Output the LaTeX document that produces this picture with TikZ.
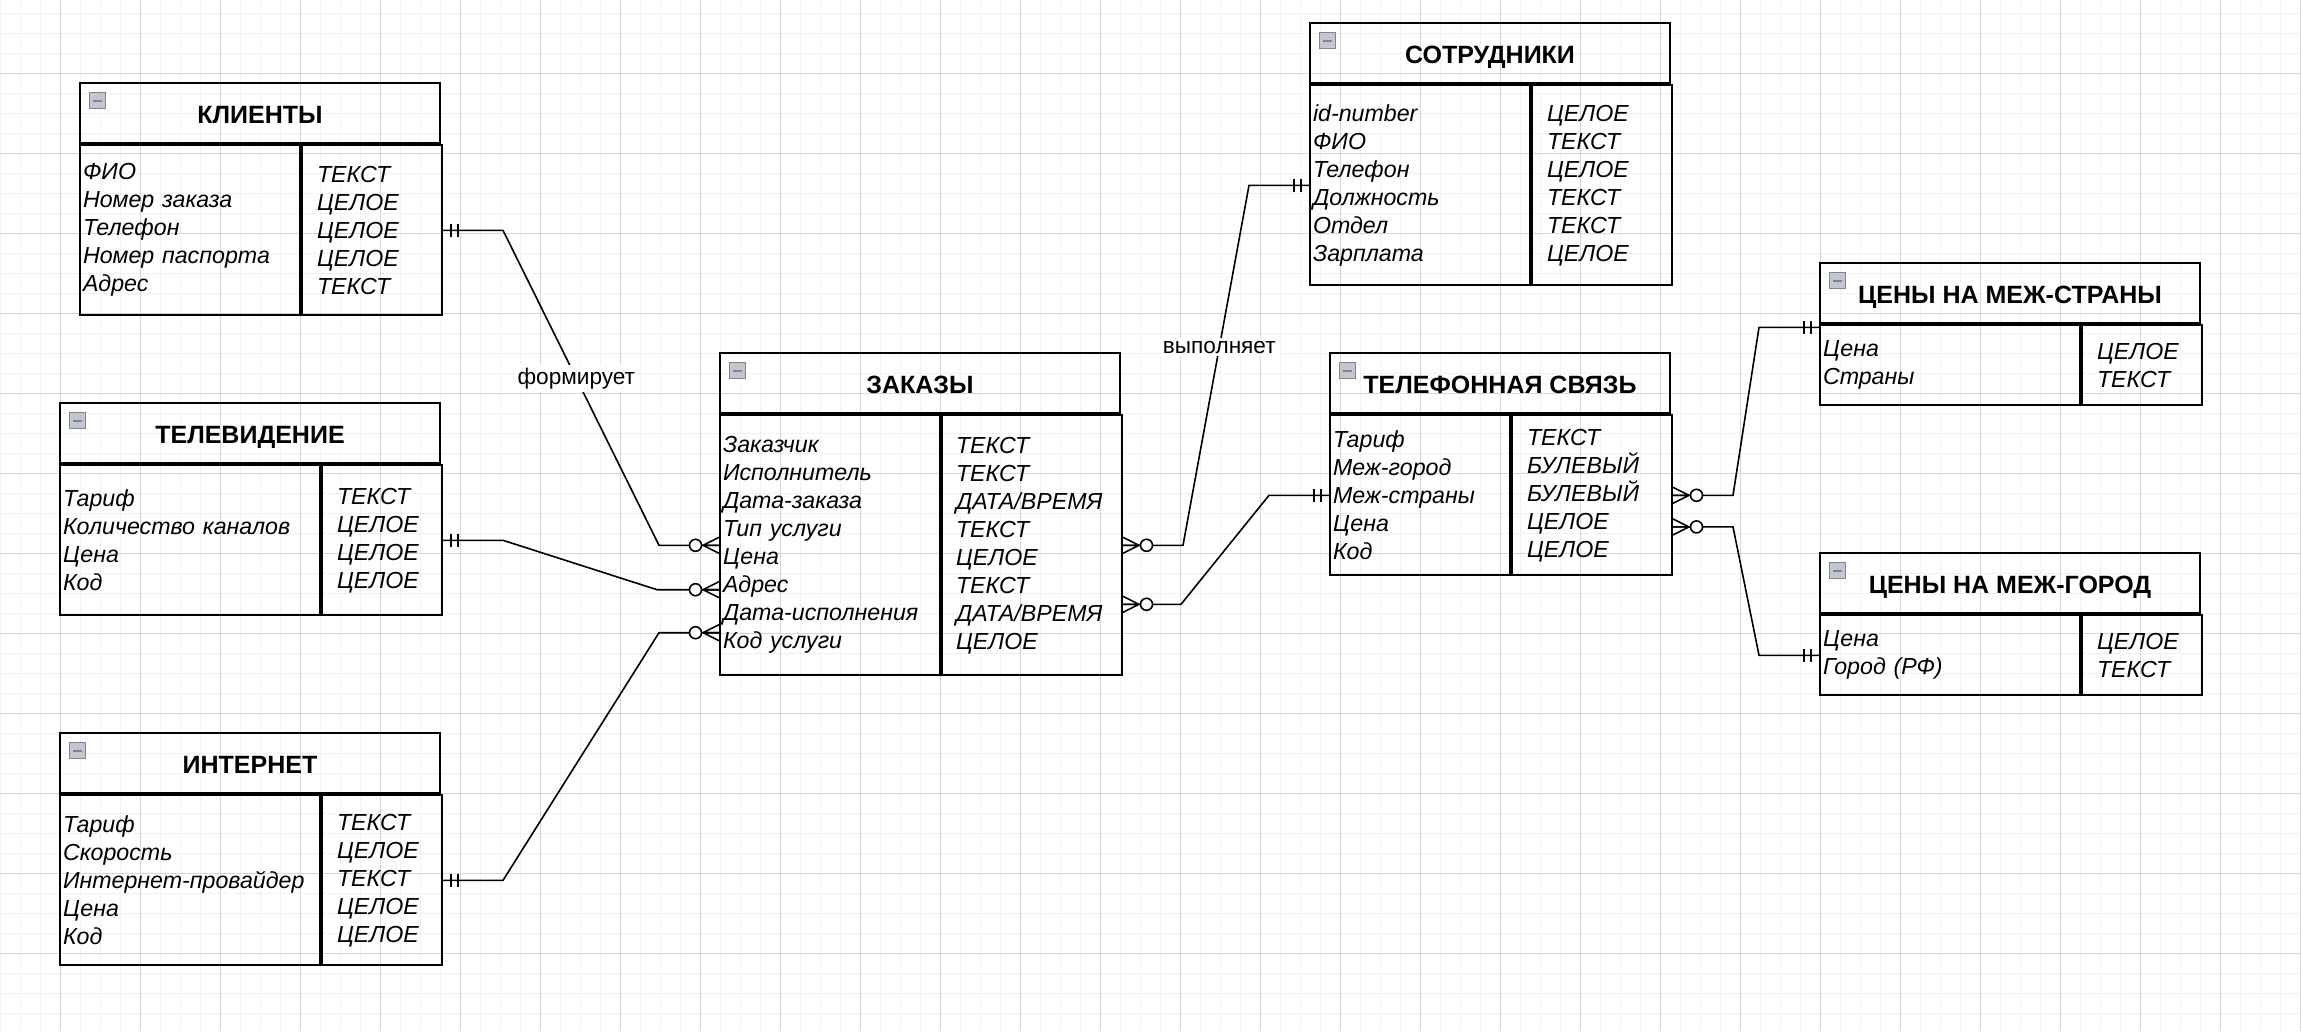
\documentclass[tikz,border=0pt]{standalone}
\usepackage{fontspec}
\setmainfont{Liberation Sans}
\usepackage{tikz}
\usetikzlibrary{positioning,calc}
\definecolor{gridminor}{RGB}{241,241,241}
\definecolor{gridmajor}{RGB}{214,214,214}
\definecolor{togglefill}{RGB}{196,198,206}
\definecolor{toggleedge}{RGB}{128,132,150}

\begin{document}
\begin{tikzpicture}[
    x=1pt, y=-1pt,
    entity/.style={rectangle, draw, line width=2pt, minimum height=60pt, inner sep=0pt,
                   text height=20pt, text depth=0pt, font=\fontsize{25pt}{28pt}\selectfont\bfseries},
    fields/.style={rectangle, draw, line width=2pt, inner xsep=3pt, inner ysep=0pt, align=left,
                   anchor=north west, font=\fontsize{23.2pt}{28pt}\selectfont\itshape},
    types/.style={fields, inner xsep=15pt},
    conn/.style={line width=1.6pt},
    lbl/.style={fill=white, inner sep=3pt, font=\fontsize{22.6pt}{26pt}\selectfont},
    toggle/.style={rectangle, draw=toggleedge, fill=togglefill, line width=1pt, minimum size=16pt, inner sep=0pt,
                   path picture={\draw[line width=1.6pt] ([xshift=-4.5pt]path picture bounding box.center)
                                 -- ([xshift=4.5pt]path picture bounding box.center);}},
    zeromany/.pic={\draw[conn] (0,-8) -- (16,0) -- (0,8) (0,0) -- (16,0);
                   \draw[conn, fill=white] (23.5,0) circle (6pt);},
    mandone/.pic={\draw[conn] (8,-6.5) -- (8,6.5) (15,-6.5) -- (15,6.5);}
]

% background grid
\fill[white] (0,0) rectangle (2301,1031);
\useasboundingbox (0,0) rectangle (2301,1031);
\foreach \gx in {0,20,...,2300} \draw[gridminor, line width=1pt] (\gx,0) -- (\gx,1031);
\foreach \gy in {13.3,33.3,...,1031} \draw[gridminor, line width=1pt] (0,\gy) -- (2301,\gy);
\foreach \gx in {60,140,...,2300} \draw[gridmajor, line width=1pt] (\gx,0) -- (\gx,1031);
\foreach \gy in {73.3,153.3,...,1031} \draw[gridmajor, line width=1pt] (0,\gy) -- (2301,\gy);

% left column
\node[entity, minimum width=360pt] (klienty) at (260,113.3) {КЛИЕНТЫ};
\node[fields, text width=214pt, minimum height=170pt] (klienty-f) at (klienty.south west)
    {ФИО\\Номер заказа\\Телефон\\Номер паспорта\\Адрес};
\node[types, text width=110pt, minimum height=170pt] (klienty-t) at (klienty-f.north east)
    {ТЕКСТ\\ЦЕЛОЕ\\ЦЕЛОЕ\\ЦЕЛОЕ\\ТЕКСТ};

\node[entity, minimum width=380pt] (tv) at (250,433.3) {ТЕЛЕВИДЕНИЕ};
\node[fields, text width=254pt, minimum height=150pt] (tv-f) at (tv.south west)
    {Тариф\\Количество каналов\\Цена\\Код};
\node[types, text width=90pt, minimum height=150pt] (tv-t) at (tv-f.north east)
    {ТЕКСТ\\ЦЕЛОЕ\\ЦЕЛОЕ\\ЦЕЛОЕ};

\node[entity, minimum width=380pt] (internet) at (250,763.3) {ИНТЕРНЕТ};
\node[fields, text width=254pt, minimum height=170pt] (internet-f) at (internet.south west)
    {Тариф\\Скорость\\Интернет-провайдер\\Цена\\Код};
\node[types, text width=90pt, minimum height=170pt] (internet-t) at (internet-f.north east)
    {ТЕКСТ\\ЦЕЛОЕ\\ТЕКСТ\\ЦЕЛОЕ\\ЦЕЛОЕ};

% middle
\node[entity, minimum width=400pt] (zakazy) at (920,383.3) {ЗАКАЗЫ};
\node[fields, text width=214pt, minimum height=260pt] (zakazy-f) at (zakazy.south west)
    {Заказчик\\Исполнитель\\Дата-заказа\\Тип услуги\\Цена\\Адрес\\Дата-исполнения\\Код услуги};
\node[types, text width=152pt, inner xsep=14pt, minimum height=260pt] (zakazy-t) at (zakazy-f.north east)
    {ТЕКСТ\\ТЕКСТ\\ДАТА/ВРЕМЯ\\ТЕКСТ\\ЦЕЛОЕ\\ТЕКСТ\\ДАТА/ВРЕМЯ\\ЦЕЛОЕ};

\node[entity, minimum width=360pt] (sotrudniki) at (1490,53.3) {СОТРУДНИКИ};
\node[fields, text width=214pt, minimum height=200pt] (sotrudniki-f) at (sotrudniki.south west)
    {id-number\\ФИО\\Телефон\\Должность\\Отдел\\Зарплата};
\node[types, text width=110pt, minimum height=200pt] (sotrudniki-t) at (sotrudniki-f.north east)
    {ЦЕЛОЕ\\ТЕКСТ\\ЦЕЛОЕ\\ТЕКСТ\\ТЕКСТ\\ЦЕЛОЕ};

\node[entity, minimum width=340pt] (telefon) at (1500,383.3) {ТЕЛЕФОННАЯ СВЯЗЬ};
\node[fields, text width=174pt, minimum height=160pt] (telefon-f) at (telefon.south west)
    {Тариф\\Меж-город\\Меж-страны\\Цена\\Код};
\node[types, text width=130pt, minimum height=160pt] (telefon-t) at (telefon-f.north east)
    {ТЕКСТ\\БУЛЕВЫЙ\\БУЛЕВЫЙ\\ЦЕЛОЕ\\ЦЕЛОЕ};

% right column
\node[entity, minimum width=380pt] (mezhstrany) at (2010,293.3) {ЦЕНЫ НА МЕЖ-СТРАНЫ};
\node[fields, text width=254pt, minimum height=80pt] (mezhstrany-f) at (mezhstrany.south west)
    {Цена\\Страны};
\node[types, text width=90pt, minimum height=80pt] (mezhstrany-t) at (mezhstrany-f.north east)
    {ЦЕЛОЕ\\ТЕКСТ};

\node[entity, minimum width=380pt] (mezhgorod) at (2010,583.3) {ЦЕНЫ НА МЕЖ-ГОРОД};
\node[fields, text width=254pt, minimum height=80pt] (mezhgorod-f) at (mezhgorod.south west)
    {Цена\\Город (РФ)};
\node[types, text width=90pt, minimum height=80pt] (mezhgorod-t) at (mezhgorod-f.north east)
    {ЦЕЛОЕ\\ТЕКСТ};

% collapse buttons
\foreach \t in {klienty,tv,internet,zakazy,sotrudniki,telefon,mezhstrany,mezhgorod}
    \node[toggle] (\t-x) at ([xshift=18.5pt,yshift=-18.5pt]\t.north west) {};

% connection points
\coordinate (zin1) at (zakazy-f.west);
\coordinate (zin2) at ([yshift=-44.4pt]zakazy-f.west);
\coordinate (zin3) at ([yshift=-87.4pt]zakazy-f.west);
\coordinate (zout1) at (zakazy-t.east);
\coordinate (zout2) at ([yshift=-59pt]zakazy-t.east);
\coordinate (tout1) at (telefon-t.east);
\coordinate (tout2) at ([yshift=-31.6pt]telefon-t.east);
\coordinate (sin) at ([yshift=-3pt]mezhstrany-f.north west);

% relations
\draw[conn] (klienty-t.east) -- ++(60,0) -- node[lbl, pos=0.47] (formiruet) {формирует} ([xshift=-60pt]zin1) -- (zin1);
\draw[conn] (tv-t.east) -- ++(60,0) -- ([xshift=-62pt]zin2) -- (zin2);
\draw[conn] (internet-t.east) -- ++(60,0) -- ([xshift=-60pt]zin3) -- (zin3);
\draw[conn] (zout1) -- ++(60,0) -- node[lbl, pos=0.55] (vypolnyaet) {выполняет} ([xshift=-60pt]sotrudniki-f.west) -- (sotrudniki-f.west);
\draw[conn] (zout2) -- ++(58,0) -- ([xshift=-60pt]telefon-f.west) -- (telefon-f.west);
\draw[conn] (tout1) -- ++(60,0) -- ([xshift=-60pt]sin) -- (sin);
\draw[conn] (tout2) -- ++(60,0) -- ([xshift=-60pt]mezhgorod-f.west) -- (mezhgorod-f.west);

% line ends
\path (klienty-t.east) pic{mandone} (tv-t.east) pic{mandone} (internet-t.east) pic{mandone}
      (sotrudniki-f.west) pic[rotate=180]{mandone} (telefon-f.west) pic[rotate=180]{mandone}
      (sin) pic[rotate=180]{mandone} (mezhgorod-f.west) pic[rotate=180]{mandone};
\path (zin1) pic[rotate=180]{zeromany} (zin2) pic[rotate=180]{zeromany} (zin3) pic[rotate=180]{zeromany}
      (zout1) pic{zeromany} (zout2) pic{zeromany} (tout1) pic{zeromany} (tout2) pic{zeromany};

\end{tikzpicture}
\end{document}
